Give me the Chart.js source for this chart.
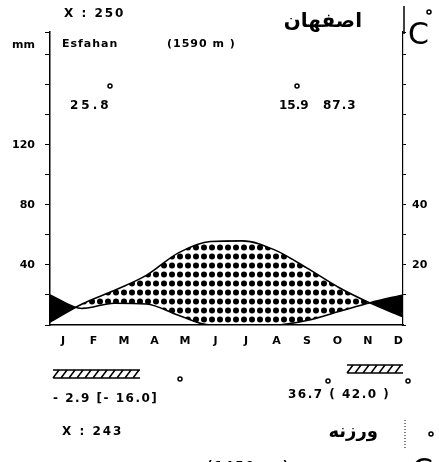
<!DOCTYPE html>
<html>
<head>
<meta charset="utf-8">
<script src="https://cdn.jsdelivr.net/npm/chart.js@4.4.1/dist/chart.umd.min.js"></script>
<style>
  body { margin: 0; background: #fff; }
  canvas { display: block; }
</style>
</head>
<body>
<canvas id="myChart" width="439" height="462"></canvas>
<script>
// monthly values (Esfahan)
const months = ["J", "F", "M", "A", "M", "J", "J", "A", "S", "O", "N", "D"];
const temperature = [1.0, 7.0, 11.5, 16.5, 24.0, 27.8, 28.0, 25.0, 19.0, 12.5, 7.2, 2.7];
const precipitation = [20, 11, 14.5, 14, 6.5, 0, 0, 0, 3, 9, 15, 20];
const mmTicks = [40, 80, 120];
const tempTicks = [20, 40];

const FONT = '"DejaVu Sans", sans-serif';
const ctx = document.getElementById('myChart');
const c2d = ctx.getContext('2d');

// dotted fill for the dry season
function dotPattern() {
  const p = document.createElement('canvas');
  p.width = 8; p.height = 9;
  const g = p.getContext('2d');
  g.fillStyle = '#000';
  g.beginPath();
  g.arc(4, 4.5, 3, 0, Math.PI * 2);
  g.fill();
  return c2d.createPattern(p, 'repeat');
}

// texts and marks around the diagram
const extras = {
  id: 'extras',
  afterDraw(chart) {
    const g = chart.ctx;
    g.save();
    g.fillStyle = '#000';
    g.strokeStyle = '#000';
    g.textBaseline = 'middle';

    const text = (s, x, y, size, align, spacing, weight) => {
      g.font = (weight || 'bold') + ' ' + size + 'px ' + FONT;
      g.textAlign = align || 'left';
      g.letterSpacing = (spacing || 0) + 'px';
      g.fillText(s, x, y);
    };
    const degree = (x, y) => {
      g.lineWidth = 1.5;
      g.beginPath();
      g.arc(x, y, 2, 0, Math.PI * 2);
      g.stroke();
    };
    const hatch = (x, y, w, h) => {
      g.lineWidth = 1.5;
      g.beginPath();
      g.moveTo(x, y); g.lineTo(x + w, y);
      g.moveTo(x, y + h); g.lineTo(x + w, y + h);
      for (let i = x; i < x + w; i += 8) {
        g.moveTo(i, y + h); g.lineTo(i + 6, y);
      }
      g.stroke();
    };

    // top block
    text('X : 250', 64, 14, 12, 'left', 2);
    text('mm', 12, 45, 11);
    text('Esfahan', 62, 44, 11, 'left', 1);
    text('(1590 m )', 167, 44, 11, 'left', 1);
    text('اصفهان', 362, 22, 20, 'right');
    g.lineWidth = 1.5;
    g.beginPath(); g.moveTo(404, 6); g.lineTo(404, 34); g.stroke();
    text('C', 408, 36, 30, 'left', 0, 'normal');
    degree(429, 12);

    text('25.8', 70, 106, 12, 'left', 3);
    degree(110, 86);
    text('15.9', 279, 106, 12, 'left', 0);
    degree(297, 86);
    text('87.3', 323, 106, 12, 'left', 1);

    // bottom block
    hatch(53, 370, 87, 8);
    degree(180, 379);
    text('- 2.9 [- 16.0]', 53, 399, 12, 'left', 1.5);
    hatch(347, 365, 56, 8);
    degree(328, 381);
    degree(408, 381);
    text('36.7 ( 42.0 )', 288, 395, 12, 'left', 1.5);

    text('X : 243', 62, 432, 12, 'left', 2);
    text('ورزنه', 378, 432, 18, 'right', 2);
    g.setLineDash([1, 2]);
    g.lineWidth = 1;
    g.beginPath(); g.moveTo(405, 420); g.lineTo(405, 450); g.stroke();
    g.setLineDash([]);
    text('C', 412, 472, 30, 'left', 0, 'normal');
    degree(431, 434);
    text('(1450 m )', 207, 467, 12, 'left', 2);
    g.restore();
  }
};

const tickFont = { family: FONT, size: 11, weight: 'bold' };

new Chart(ctx, {
  type: 'line',
  data: {
    labels: months,
    datasets: [{
      label: 'C°',
      data: temperature,
      yAxisID: 'y2',
      xAxisID: 'x',
      borderColor: '#000',
      borderWidth: 1.6,
      pointRadius: 0,
      cubicInterpolationMode: 'monotone',
      fill: { target: 1, above: dotPattern(), below: '#000' }
    }, {
      label: 'mm',
      data: precipitation,
      yAxisID: 'y',
      xAxisID: 'x',
      borderColor: '#000',
      borderWidth: 1.6,
      pointRadius: 0,
      cubicInterpolationMode: 'monotone',
      fill: false
    }]
  },
  options: {
    responsive: false,
    animation: false,
    events: [],
    layout: { padding: { top: 32, bottom: 113 } },
    plugins: { legend: { display: false }, tooltip: { enabled: false } },
    scales: {
      x: { type: 'category', display: false, offset: false },
      xm: {
        type: 'linear',
        position: 'bottom',
        min: -0.43,
        max: 11.15,
        afterFit(s) { s.height = 24; },
        grid: { display: false, drawTicks: false },
        border: { display: true, color: '#000', width: 1.5 },
        ticks: {
          stepSize: 1,
          includeBounds: false,
          autoSkip: false,
          maxRotation: 0,
          padding: 10,
          color: '#000',
          font: tickFont,
          callback: v => months[v] || ''
        }
      },
      y: {
        position: 'left',
        min: 0,
        max: 195,
        afterFit(s) { s.width = 50; },
        grid: { drawOnChartArea: false, color: '#000', tickLength: 5 },
        border: { color: '#000', width: 1.5 },
        ticks: {
          stepSize: 20,
          padding: 10,
          color: '#000',
          font: tickFont,
          callback: v => mmTicks.includes(v) ? v : ''
        }
      },
      y2: {
        position: 'right',
        min: 0,
        max: 97.5,
        afterFit(s) { s.width = 36; },
        grid: { drawOnChartArea: false, color: '#000', tickLength: 3 },
        border: { color: '#000', width: 1.2, dash: [3, 2] },
        ticks: {
          stepSize: 10,
          padding: 6,
          color: '#000',
          font: tickFont,
          callback: v => tempTicks.includes(v) ? v : ''
        }
      }
    }
  },
  plugins: [extras]
});
</script>
</body>
</html>
